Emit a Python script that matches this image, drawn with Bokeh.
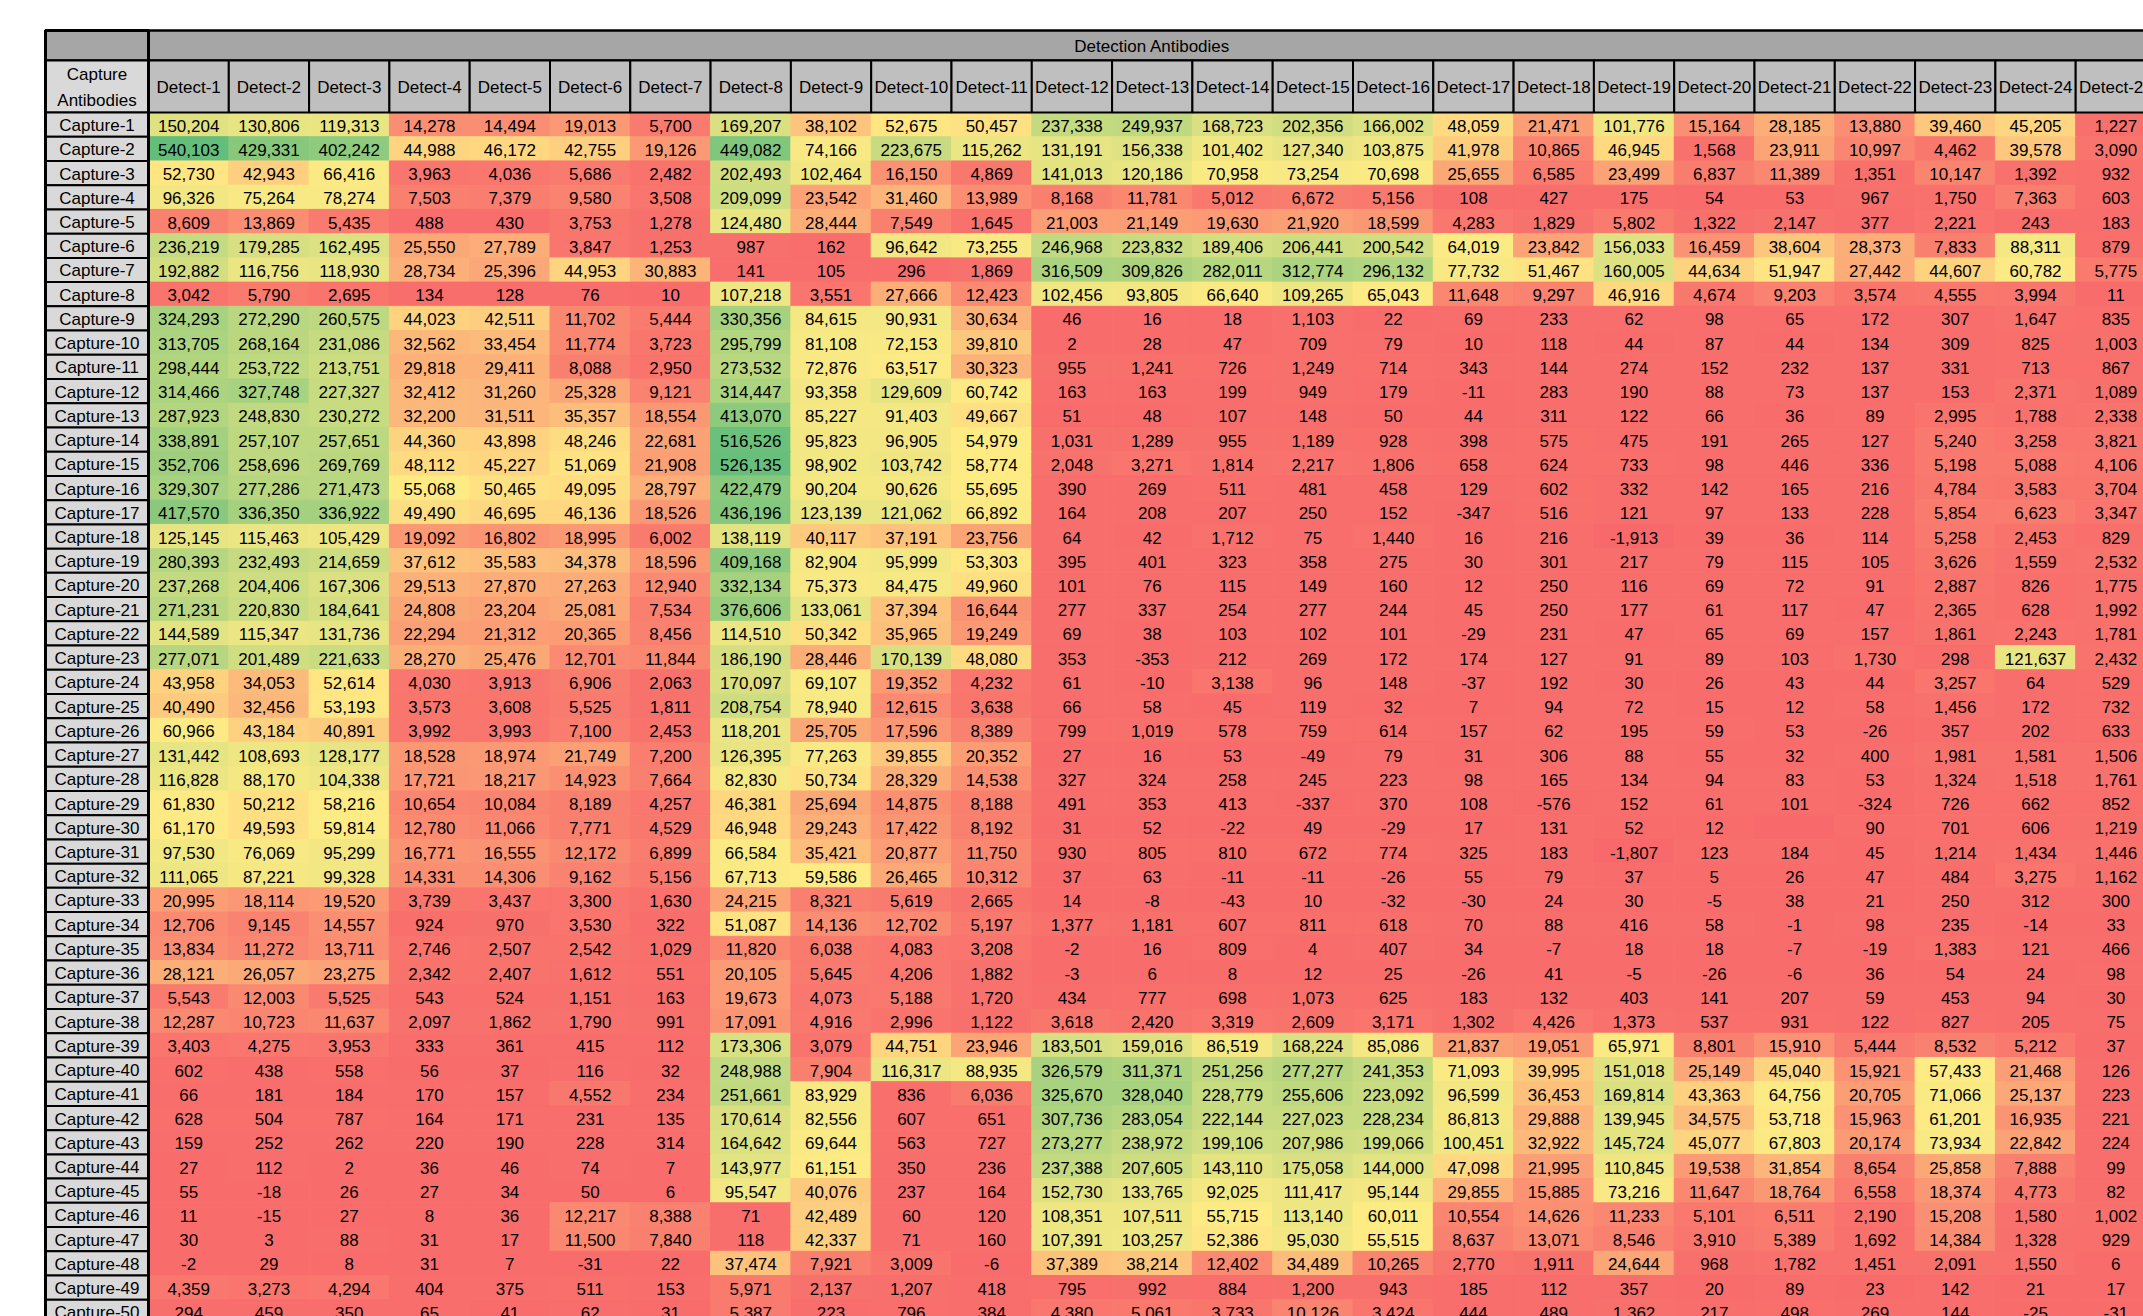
import numpy as np
from bokeh.plotting import figure
from bokeh.models import ColumnDataSource, Range1d
from bokeh.core.properties import value
from bokeh.embed import file_html
from bokeh.resources import INLINE

# ---------------- data ----------------
group_header = "Detection Antibodies"
corner_header = ["Capture", "Antibodies"]
detect_labels = ["Detect-%d" % i for i in range(1, 26)]
capture_labels = ["Capture-%d" % i for i in range(1, 51)]

capture_01 = [150204, 130806, 119313, 14278, 14494, 19013, 5700, 169207, 38102, 52675, 50457, 237338, 249937, 168723, 202356, 166002, 48059, 21471, 101776, 15164, 28185, 13880, 39460, 45205, 1227]
capture_02 = [540103, 429331, 402242, 44988, 46172, 42755, 19126, 449082, 74166, 223675, 115262, 131191, 156338, 101402, 127340, 103875, 41978, 10865, 46945, 1568, 23911, 10997, 4462, 39578, 3090]
capture_03 = [52730, 42943, 66416, 3963, 4036, 5686, 2482, 202493, 102464, 16150, 4869, 141013, 120186, 70958, 73254, 70698, 25655, 6585, 23499, 6837, 11389, 1351, 10147, 1392, 932]
capture_04 = [96326, 75264, 78274, 7503, 7379, 9580, 3508, 209099, 23542, 31460, 13989, 8168, 11781, 5012, 6672, 5156, 108, 427, 175, 54, 53, 967, 1750, 7363, 603]
capture_05 = [8609, 13869, 5435, 488, 430, 3753, 1278, 124480, 28444, 7549, 1645, 21003, 21149, 19630, 21920, 18599, 4283, 1829, 5802, 1322, 2147, 377, 2221, 243, 183]
capture_06 = [236219, 179285, 162495, 25550, 27789, 3847, 1253, 987, 162, 96642, 73255, 246968, 223832, 189406, 206441, 200542, 64019, 23842, 156033, 16459, 38604, 28373, 7833, 88311, 879]
capture_07 = [192882, 116756, 118930, 28734, 25396, 44953, 30883, 141, 105, 296, 1869, 316509, 309826, 282011, 312774, 296132, 77732, 51467, 160005, 44634, 51947, 27442, 44607, 60782, 5775]
capture_08 = [3042, 5790, 2695, 134, 128, 76, 10, 107218, 3551, 27666, 12423, 102456, 93805, 66640, 109265, 65043, 11648, 9297, 46916, 4674, 9203, 3574, 4555, 3994, 11]
capture_09 = [324293, 272290, 260575, 44023, 42511, 11702, 5444, 330356, 84615, 90931, 30634, 46, 16, 18, 1103, 22, 69, 233, 62, 98, 65, 172, 307, 1647, 835]
capture_10 = [313705, 268164, 231086, 32562, 33454, 11774, 3723, 295799, 81108, 72153, 39810, 2, 28, 47, 709, 79, 10, 118, 44, 87, 44, 134, 309, 825, 1003]
capture_11 = [298444, 253722, 213751, 29818, 29411, 8088, 2950, 273532, 72876, 63517, 30323, 955, 1241, 726, 1249, 714, 343, 144, 274, 152, 232, 137, 331, 713, 867]
capture_12 = [314466, 327748, 227327, 32412, 31260, 25328, 9121, 314447, 93358, 129609, 60742, 163, 163, 199, 949, 179, -11, 283, 190, 88, 73, 137, 153, 2371, 1089]
capture_13 = [287923, 248830, 230272, 32200, 31511, 35357, 18554, 413070, 85227, 91403, 49667, 51, 48, 107, 148, 50, 44, 311, 122, 66, 36, 89, 2995, 1788, 2338]
capture_14 = [338891, 257107, 257651, 44360, 43898, 48246, 22681, 516526, 95823, 96905, 54979, 1031, 1289, 955, 1189, 928, 398, 575, 475, 191, 265, 127, 5240, 3258, 3821]
capture_15 = [352706, 258696, 269769, 48112, 45227, 51069, 21908, 526135, 98902, 103742, 58774, 2048, 3271, 1814, 2217, 1806, 658, 624, 733, 98, 446, 336, 5198, 5088, 4106]
capture_16 = [329307, 277286, 271473, 55068, 50465, 49095, 28797, 422479, 90204, 90626, 55695, 390, 269, 511, 481, 458, 129, 602, 332, 142, 165, 216, 4784, 3583, 3704]
capture_17 = [417570, 336350, 336922, 49490, 46695, 46136, 18526, 436196, 123139, 121062, 66892, 164, 208, 207, 250, 152, -347, 516, 121, 97, 133, 228, 5854, 6623, 3347]
capture_18 = [125145, 115463, 105429, 19092, 16802, 18995, 6002, 138119, 40117, 37191, 23756, 64, 42, 1712, 75, 1440, 16, 216, -1913, 39, 36, 114, 5258, 2453, 829]
capture_19 = [280393, 232493, 214659, 37612, 35583, 34378, 18596, 409168, 82904, 95999, 53303, 395, 401, 323, 358, 275, 30, 301, 217, 79, 115, 105, 3626, 1559, 2532]
capture_20 = [237268, 204406, 167306, 29513, 27870, 27263, 12940, 332134, 75373, 84475, 49960, 101, 76, 115, 149, 160, 12, 250, 116, 69, 72, 91, 2887, 826, 1775]
capture_21 = [271231, 220830, 184641, 24808, 23204, 25081, 7534, 376606, 133061, 37394, 16644, 277, 337, 254, 277, 244, 45, 250, 177, 61, 117, 47, 2365, 628, 1992]
capture_22 = [144589, 115347, 131736, 22294, 21312, 20365, 8456, 114510, 50342, 35965, 19249, 69, 38, 103, 102, 101, -29, 231, 47, 65, 69, 157, 1861, 2243, 1781]
capture_23 = [277071, 201489, 221633, 28270, 25476, 12701, 11844, 186190, 28446, 170139, 48080, 353, -353, 212, 269, 172, 174, 127, 91, 89, 103, 1730, 298, 121637, 2432]
capture_24 = [43958, 34053, 52614, 4030, 3913, 6906, 2063, 170097, 69107, 19352, 4232, 61, -10, 3138, 96, 148, -37, 192, 30, 26, 43, 44, 3257, 64, 529]
capture_25 = [40490, 32456, 53193, 3573, 3608, 5525, 1811, 208754, 78940, 12615, 3638, 66, 58, 45, 119, 32, 7, 94, 72, 15, 12, 58, 1456, 172, 732]
capture_26 = [60966, 43184, 40891, 3992, 3993, 7100, 2453, 118201, 25705, 17596, 8389, 799, 1019, 578, 759, 614, 157, 62, 195, 59, 53, -26, 357, 202, 633]
capture_27 = [131442, 108693, 128177, 18528, 18974, 21749, 7200, 126395, 77263, 39855, 20352, 27, 16, 53, -49, 79, 31, 306, 88, 55, 32, 400, 1981, 1581, 1506]
capture_28 = [116828, 88170, 104338, 17721, 18217, 14923, 7664, 82830, 50734, 28329, 14538, 327, 324, 258, 245, 223, 98, 165, 134, 94, 83, 53, 1324, 1518, 1761]
capture_29 = [61830, 50212, 58216, 10654, 10084, 8189, 4257, 46381, 25694, 14875, 8188, 491, 353, 413, -337, 370, 108, -576, 152, 61, 101, -324, 726, 662, 852]
capture_30 = [61170, 49593, 59814, 12780, 11066, 7771, 4529, 46948, 29243, 17422, 8192, 31, 52, -22, 49, -29, 17, 131, 52, 12, None, 90, 701, 606, 1219]
capture_31 = [97530, 76069, 95299, 16771, 16555, 12172, 6899, 66584, 35421, 20877, 11750, 930, 805, 810, 672, 774, 325, 183, -1807, 123, 184, 45, 1214, 1434, 1446]
capture_32 = [111065, 87221, 99328, 14331, 14306, 9162, 5156, 67713, 59586, 26465, 10312, 37, 63, -11, -11, -26, 55, 79, 37, 5, 26, 47, 484, 3275, 1162]
capture_33 = [20995, 18114, 19520, 3739, 3437, 3300, 1630, 24215, 8321, 5619, 2665, 14, -8, -43, 10, -32, -30, 24, 30, -5, 38, 21, 250, 312, 300]
capture_34 = [12706, 9145, 14557, 924, 970, 3530, 322, 51087, 14136, 12702, 5197, 1377, 1181, 607, 811, 618, 70, 88, 416, 58, -1, 98, 235, -14, 33]
capture_35 = [13834, 11272, 13711, 2746, 2507, 2542, 1029, 11820, 6038, 4083, 3208, -2, 16, 809, 4, 407, 34, -7, 18, 18, -7, -19, 1383, 121, 466]
capture_36 = [28121, 26057, 23275, 2342, 2407, 1612, 551, 20105, 5645, 4206, 1882, -3, 6, 8, 12, 25, -26, 41, -5, -26, -6, 36, 54, 24, 98]
capture_37 = [5543, 12003, 5525, 543, 524, 1151, 163, 19673, 4073, 5188, 1720, 434, 777, 698, 1073, 625, 183, 132, 403, 141, 207, 59, 453, 94, 30]
capture_38 = [12287, 10723, 11637, 2097, 1862, 1790, 991, 17091, 4916, 2996, 1122, 3618, 2420, 3319, 2609, 3171, 1302, 4426, 1373, 537, 931, 122, 827, 205, 75]
capture_39 = [3403, 4275, 3953, 333, 361, 415, 112, 173306, 3079, 44751, 23946, 183501, 159016, 86519, 168224, 85086, 21837, 19051, 65971, 8801, 15910, 5444, 8532, 5212, 37]
capture_40 = [602, 438, 558, 56, 37, 116, 32, 248988, 7904, 116317, 88935, 326579, 311371, 251256, 277277, 241353, 71093, 39995, 151018, 25149, 45040, 15921, 57433, 21468, 126]
capture_41 = [66, 181, 184, 170, 157, 4552, 234, 251661, 83929, 836, 6036, 325670, 328040, 228779, 255606, 223092, 96599, 36453, 169814, 43363, 64756, 20705, 71066, 25137, 223]
capture_42 = [628, 504, 787, 164, 171, 231, 135, 170614, 82556, 607, 651, 307736, 283054, 222144, 227023, 228234, 86813, 29888, 139945, 34575, 53718, 15963, 61201, 16935, 221]
capture_43 = [159, 252, 262, 220, 190, 228, 314, 164642, 69644, 563, 727, 273277, 238972, 199106, 207986, 199066, 100451, 32922, 145724, 45077, 67803, 20174, 73934, 22842, 224]
capture_44 = [27, 112, 2, 36, 46, 74, 7, 143977, 61151, 350, 236, 237388, 207605, 143110, 175058, 144000, 47098, 21995, 110845, 19538, 31854, 8654, 25858, 7888, 99]
capture_45 = [55, -18, 26, 27, 34, 50, 6, 95547, 40076, 237, 164, 152730, 133765, 92025, 111417, 95144, 29855, 15885, 73216, 11647, 18764, 6558, 18374, 4773, 82]
capture_46 = [11, -15, 27, 8, 36, 12217, 8388, 71, 42489, 60, 120, 108351, 107511, 55715, 113140, 60011, 10554, 14626, 11233, 5101, 6511, 2190, 15208, 1580, 1002]
capture_47 = [30, 3, 88, 31, 17, 11500, 7840, 118, 42337, 71, 160, 107391, 103257, 52386, 95030, 55515, 8637, 13071, 8546, 3910, 5389, 1692, 14384, 1328, 929]
capture_48 = [-2, 29, 8, 31, 7, -31, 22, 37474, 7921, 3009, -6, 37389, 38214, 12402, 34489, 10265, 2770, 1911, 24644, 968, 1782, 1451, 2091, 1550, 6]
capture_49 = [4359, 3273, 4294, 404, 375, 511, 153, 5971, 2137, 1207, 418, 795, 992, 884, 1200, 943, 185, 112, 357, 20, 89, 23, 142, 21, 17]
capture_50 = [294, 459, 350, 65, 41, 62, 31, 5387, 223, 796, 384, 4380, 5061, 3733, 10126, 3424, 444, 489, 1362, 217, 498, 269, 144, -25, -31]

rows = [capture_01, capture_02, capture_03, capture_04, capture_05, capture_06, capture_07, capture_08, capture_09, capture_10,
        capture_11, capture_12, capture_13, capture_14, capture_15, capture_16, capture_17, capture_18, capture_19, capture_20,
        capture_21, capture_22, capture_23, capture_24, capture_25, capture_26, capture_27, capture_28, capture_29, capture_30,
        capture_31, capture_32, capture_33, capture_34, capture_35, capture_36, capture_37, capture_38, capture_39, capture_40,
        capture_41, capture_42, capture_43, capture_44, capture_45, capture_46, capture_47, capture_48, capture_49, capture_50]

# colour scale (3-colour: red - yellow - green)
SCALE_MID = 55000
RED = np.array([248, 105, 107])
YEL = np.array([255, 235, 132])
GRN = np.array([99, 190, 123])

# ---------------- layout (pixels) ----------------
W, H = 2143, 1316
COL_PX, ROW_PX = 80.3, 24.23
DATA_LEFT_PX, DATA_TOP_PX = 148, 112
LABEL_PX, HDR2_PX, HDR1_PX = 103, 52, 30
FONT = value("Liberation Sans Narrow, Arial Narrow, Liberation Sans, Arial, sans-serif")
FS = "17px"

vals = np.array([[np.nan if v is None else v for v in r] for r in rows], dtype=float)
vmin, vmax = np.nanmin(vals), np.nanmax(vals)


def scale_color(v):
    if np.isnan(v):
        c = RED
    elif v <= SCALE_MID:
        t = (v - vmin) / (SCALE_MID - vmin)
        c = RED + (YEL - RED) * t
    else:
        t = (v - SCALE_MID) / (vmax - SCALE_MID)
        c = YEL + (GRN - YEL) * t
    return "#%02X%02X%02X" % tuple(int(round(x)) for x in c)


nrow, ncol = vals.shape
xs, ys, cols, txt = [], [], [], []
for i in range(nrow):
    for j in range(ncol):
        v = vals[i, j]
        xs.append(j + 0.5)
        ys.append(i + 0.5)
        cols.append(scale_color(v))
        txt.append("" if np.isnan(v) else "{:,}".format(int(v)))
cells = ColumnDataSource(dict(x=xs, y=ys, c=cols, t=txt))

label_w = LABEL_PX / COL_PX
h2 = HDR2_PX / ROW_PX
h1 = HDR1_PX / ROW_PX

p = figure(width=W, height=H, output_backend="svg", toolbar_location=None,
           x_range=Range1d(-DATA_LEFT_PX / COL_PX, (W - DATA_LEFT_PX) / COL_PX),
           y_range=Range1d((H - DATA_TOP_PX) / ROW_PX, -DATA_TOP_PX / ROW_PX),
           x_axis_type=None, y_axis_type=None, min_border=0,
           outline_line_color=None, background_fill_color="white", border_fill_color="white")
p.grid.visible = False

# data cells
p.rect(x="x", y="y", width=1, height=1, source=cells, fill_color="c", line_color="c", line_width=1)

# header row 1 (group header + corner)
p.rect(x=[-label_w / 2, ncol / 2], y=[-h2 - h1 / 2] * 2, width=[label_w, ncol], height=h1,
       fill_color="#A6A6A6", line_color="black", line_width=2.5)
# header row 2
hx = [j + 0.5 for j in range(ncol)]
p.rect(x=hx, y=[-h2 / 2] * ncol, width=1, height=h2, fill_color="#BFBFBF", line_color="black", line_width=2)
p.rect(x=[-label_w / 2], y=[-h2 / 2], width=label_w, height=h2, fill_color="#D9D9D9", line_color="black", line_width=2)
# capture labels
p.rect(x=[-label_w / 2] * nrow, y=[i + 0.5 for i in range(nrow)], width=label_w, height=1,
       fill_color="#D9D9D9", line_color="black", line_width=2)
# outer left border
p.rect(x=[-label_w / 2], y=[(nrow - h2 - h1) / 2], width=label_w, height=nrow + h2 + h1,
       fill_color=None, line_color="black", line_width=3)

# texts
p.text(x="x", y="y", text="t", source=cells, text_align="center", text_baseline="middle",
       text_font=FONT, text_font_size=FS, text_color="black", y_offset=1)
p.text(x=hx, y=[-h2 / 2] * ncol, text=detect_labels, text_align="center", text_baseline="middle",
       text_font=FONT, text_font_size=FS, text_color="black", y_offset=1)
p.text(x=[-label_w / 2] * nrow, y=[i + 0.5 for i in range(nrow)], text=capture_labels,
       text_align="center", text_baseline="middle", text_font=FONT, text_font_size=FS,
       text_color="black", y_offset=1)
line_gap = 13 / ROW_PX
p.text(x=[-label_w / 2] * 2, y=[-h2 / 2 - line_gap, -h2 / 2 + line_gap], text=corner_header,
       text_align="center", text_baseline="middle", text_font=FONT, text_font_size=FS,
       text_color="black", y_offset=1)
p.text(x=[ncol / 2], y=[-h2 - h1 / 2], text=[group_header], text_align="center", text_baseline="middle",
       text_font=FONT, text_font_size=FS, text_color="black", y_offset=1)

open("out.html", "w").write(file_html(p, INLINE))
